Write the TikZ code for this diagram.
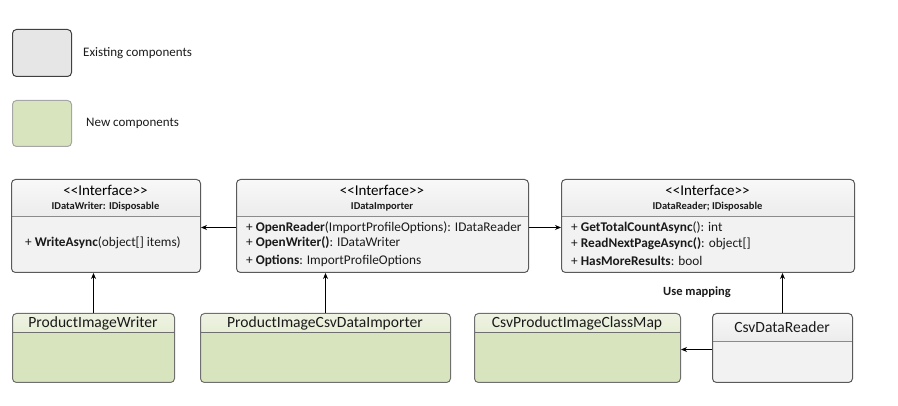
\documentclass[tikz,border=0pt]{standalone}
\usepackage{fontspec}
\setmainfont{Carlito}
\usetikzlibrary{arrows.meta}

\definecolor{oldbody}{HTML}{F2F2F2}
\definecolor{oldtop}{HTML}{F8F8F8}
\definecolor{oldbot}{HTML}{DADADA}
\definecolor{oldline}{HTML}{5A5A5A}
\definecolor{newbody}{HTML}{D7E4BD}
\definecolor{newtop}{HTML}{EEF3E2}
\definecolor{newbot}{HTML}{D3E0B8}
\definecolor{newline}{HTML}{6F6F6F}
\definecolor{legendgray}{HTML}{E6E6E6}
\definecolor{txt}{HTML}{1A1A1A}

\newcommand{\stereotype}{<\kern0pt<Interface>\kern0pt>}

\tikzset{
  box/.style={rectangle, rounded corners=4pt, line width=1pt, inner sep=0pt, anchor=north west},
  oldbox/.style={box, draw=oldline, fill=oldbody,
    path picture={\shade[top color=oldtop, bottom color=oldbot]
      (path picture bounding box.north west) rectangle ([yshift=-#1pt]path picture bounding box.north east);
      \draw[oldline!70, line width=1pt] ([yshift=-#1pt]path picture bounding box.north west)
      -- ([yshift=-#1pt]path picture bounding box.north east);}},
  newbox/.style={box, draw=newline, fill=newbody,
    path picture={\shade[top color=newtop, bottom color=newbot]
      (path picture bounding box.north west) rectangle ([yshift=-#1pt]path picture bounding box.north east);
      \draw[newline, line width=0.8pt] ([yshift=-#1pt]path picture bounding box.north west)
      -- ([yshift=-#1pt]path picture bounding box.north east);}},
  stereo/.style={font=\fontsize{15}{17}\selectfont, text=black, inner sep=0pt},
  iname/.style={font=\fontsize{10.5}{12}\selectfont\bfseries, text=txt, inner sep=0pt},
  member/.style={font=\fontsize{13.3}{15}\selectfont, text=txt, inner sep=0pt, anchor=west},
  cname/.style={font=\fontsize{15.6}{18}\selectfont, text=txt, inner sep=0pt},
  legend/.style={font=\fontsize{13}{15}\selectfont, text=txt, inner sep=0pt, anchor=west},
  link/.style={-{Stealth[length=6pt,width=5pt]}, line width=1pt, draw=black},
}

\begin{document}
\begin{tikzpicture}[x=1pt,y=-1pt]
\useasboundingbox (0,0) rectangle (898,406);

% legend
\node[box, draw=black!75, fill=legendgray, minimum width=59pt, minimum height=47pt] (oldkey) at (12,29) {};
\node[legend] (oldtext) at (83,53) {Existing components};
\node[box, draw=black!35, fill=newbody, minimum width=59pt, minimum height=46pt] (newkey) at (12,100) {};
\node[legend] (newtext) at (86,123) {New components};

% interfaces
\node[oldbox=37, minimum width=189pt, minimum height=93pt] (writer) at (11,179) {};
\node[stereo] (writerst) at (105.5,190) {\stereotype};
\node[iname] (writernm) at (105.5,207) {IDataWriter: IDisposable};
\node[member] (writerm1) at (25,243) {+ \textbf{WriteAsync}(object[] items)};

\node[oldbox=37, minimum width=292pt, minimum height=93pt] (importer) at (236,179) {};
\node[stereo] (importerst) at (382,190) {\stereotype};
\node[iname] (importernm) at (382,207) {IDataImporter};
\node[member] (importerm1) at (246,228) {+ \textbf{OpenReader}(ImportProfileOptions): IDataReader};
\node[member] (importerm2) at (246,243) {+ \textbf{OpenWriter()}: IDataWriter};
\node[member] (importerm3) at (246,261) {+ \textbf{Options}: ImportProfileOptions};

\node[oldbox=37, minimum width=293pt, minimum height=93pt] (reader) at (561,179) {};
\node[stereo] (readerst) at (707.5,190) {\stereotype};
\node[iname] (readernm) at (707.5,207) {IDataReader; IDisposable};
\node[member] (readerm1) at (571,228) {+ \textbf{GetTotalCountAsync}(): int};
\node[member] (readerm2) at (571,244) {+ \textbf{ReadNextPageAsync()}: object[]};
\node[member] (readerm3) at (571,261) {+ \textbf{HasMoreResults}: bool};

% classes
\node[newbox=19, minimum width=162pt, minimum height=69pt] (pwriter) at (12,313) {};
\node[cname] (pwriternm) at (93,323) {ProductImageWriter};

\node[newbox=19, minimum width=250pt, minimum height=69pt] (pimporter) at (200,313) {};
\node[cname] (pimporternm) at (325,323) {ProductImageCsvDataImporter};

\node[newbox=19, minimum width=206pt, minimum height=69pt] (classmap) at (474,313) {};
\node[cname] (classmapnm) at (577,323) {CsvProductImageClassMap};

\node[oldbox=28, minimum width=140pt, minimum height=69pt] (csvreader) at (712,313) {};
\node[cname] (csvreadernm) at (782,327.5) {CsvDataReader};

\node[font=\fontsize{12.5}{14}\selectfont\bfseries, text=txt, inner sep=0pt] (usemap) at (697,292) {Use mapping};

% connectors
\draw[link] ([yshift=-1.5pt]importer.west) -- ([yshift=-1.5pt]writer.east);
\draw[link] ([yshift=-1.5pt]importer.east) -- ([yshift=-1.5pt]reader.west);
\draw[link] (pwriter.north) -- (pwriter.north |- writer.south);
\draw[link] (pimporter.north) -- (pimporter.north |- importer.south);
\draw[link] (csvreader.north) -- (csvreader.north |- reader.south);
\draw[link] ([yshift=-1.5pt]csvreader.west) -- ([yshift=-1.5pt]classmap.east);
\end{tikzpicture}
\end{document}
